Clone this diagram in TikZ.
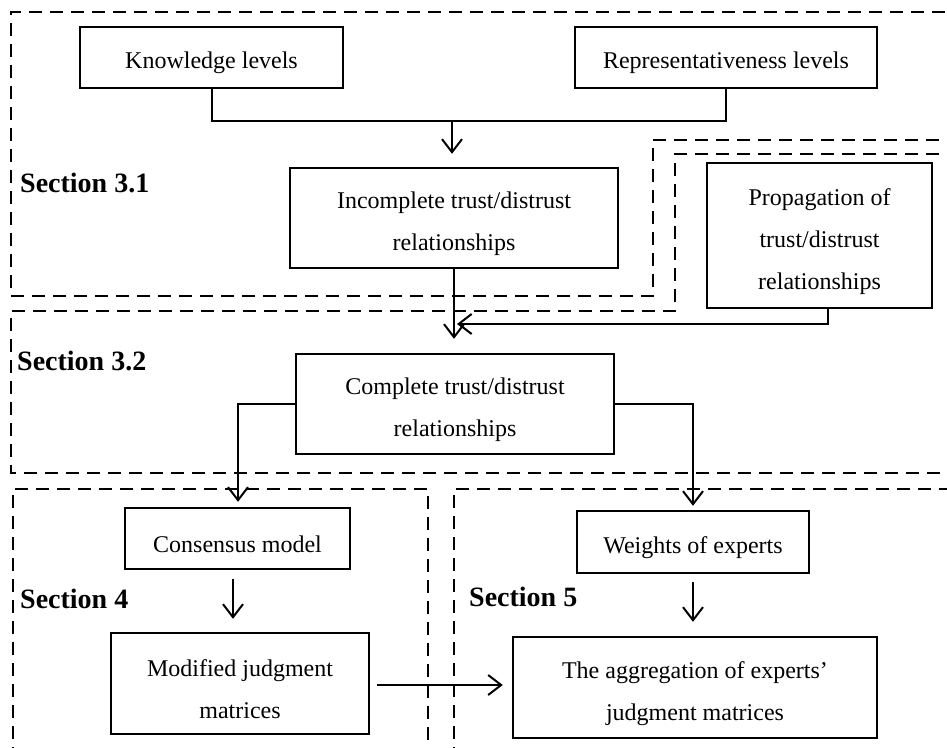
\documentclass[tikz,border=0pt]{standalone}
\usepackage{fontspec}
\setmainfont{Liberation Serif}
\usetikzlibrary{arrows.meta}
\newcommand{\topstrut}{\rule{0pt}{29pt}}
\begin{document}
\begin{tikzpicture}[x=1pt,y=-1pt,
  box/.style={draw,line width=2.4pt,align=center,inner sep=0pt,
    font=\fontsize{24}{42}\selectfont,execute at begin node={\rule{0pt}{28pt}}},
  conn/.style={line width=2pt},
  arr/.style={line width=2pt,-{Straight Barb[length=13pt,width=20pt,line width=2pt]}},
  sect/.style={line width=2pt,dash pattern=on 13pt off 8pt},
  slabel/.style={anchor=base west,inner sep=0pt,font=\fontsize{28}{32}\selectfont\bfseries}]
\clip (0,0) rectangle (947,747);
\fill[white] (0,0) rectangle (947,747);
% section frames
\draw[sect] (960,140) -- (653,140) -- (653,296) -- (11,296) -- (11,12) -- (960,12);
\draw[sect] (960,154) -- (675,154) -- (675,311) -- (11,311) -- (11,473) -- (960,473);
\draw[sect] (13,760) -- (13,489) -- (428,489) -- (428,760);
\draw[sect] (454,760) -- (454,489) -- (960,489);
% labels
\node[slabel] (s31) at (20,192) {Section 3.1};
\node[slabel] (s32) at (17,370) {Section 3.2};
\node[slabel] (s4) at (20,608) {Section 4};
\node[slabel] (s5) at (469,606) {Section 5};
% nodes
\node[box,minimum width=263pt,minimum height=61pt] (know) at (211.5,57.5) {Knowledge levels};
\node[box,minimum width=302pt,minimum height=61pt] (rep) at (726,57.5) {Representativeness levels};
\node[box,minimum width=328pt,minimum height=100pt] (inc) at (454,218) {\topstrut Incomplete trust/distrust\\relationships};
\node[box,minimum width=225pt,minimum height=145pt] (prop) at (819.5,235.5) {\topstrut Propagation of\\trust/distrust\\relationships};
\node[box,minimum width=318pt,minimum height=100pt] (comp) at (455,404) {\topstrut Complete trust/distrust\\relationships};
\node[box,minimum width=225pt,minimum height=61pt] (cons) at (237.5,538.5) {Consensus model};
\node[box,minimum width=232pt,minimum height=62pt] (wts) at (693,542) {Weights of experts};
\node[box,minimum width=258pt,minimum height=101pt] (mod) at (240,683.5) {\topstrut Modified judgment\\matrices};
\node[box,minimum width=364pt,minimum height=101pt] (agg) at (695,687.5) {\topstrut The aggregation of experts’\\judgment matrices};
% connectors
\coordinate (j1) at (452,121);
\coordinate (j2) at (453,324);
\draw[conn] (know.south) |- (rep.south |- j1) -- (rep.south);
\draw[arr,shorten >=13pt] (j1) -- (j1 |- inc.north);
\draw[arr,shorten >=14pt] (inc.south) -- (inc.south |- comp.north);
\draw[arr,shorten >=-1pt] ([xshift=8pt]prop.south) |- ([xshift=5pt]j2);
\draw[arr,shorten >=5pt] (comp.west) -| ([xshift=0.5pt]cons.north);
\draw[arr,shorten >=4pt] (comp.east) -| (wts.north);
\draw[arr,shorten <=9pt,shorten >=13pt] ([xshift=-4.5pt]cons.south) -- ([xshift=-4.5pt]cons.south |- mod.north);
\draw[arr,shorten <=8pt,shorten >=14pt] (wts.south) -- (wts.south |- agg.north);
\draw[arr,shorten <=7pt,shorten >=9pt] (mod.east |- 0,685) -- (agg.west |- 0,685);
\end{tikzpicture}
\end{document}
